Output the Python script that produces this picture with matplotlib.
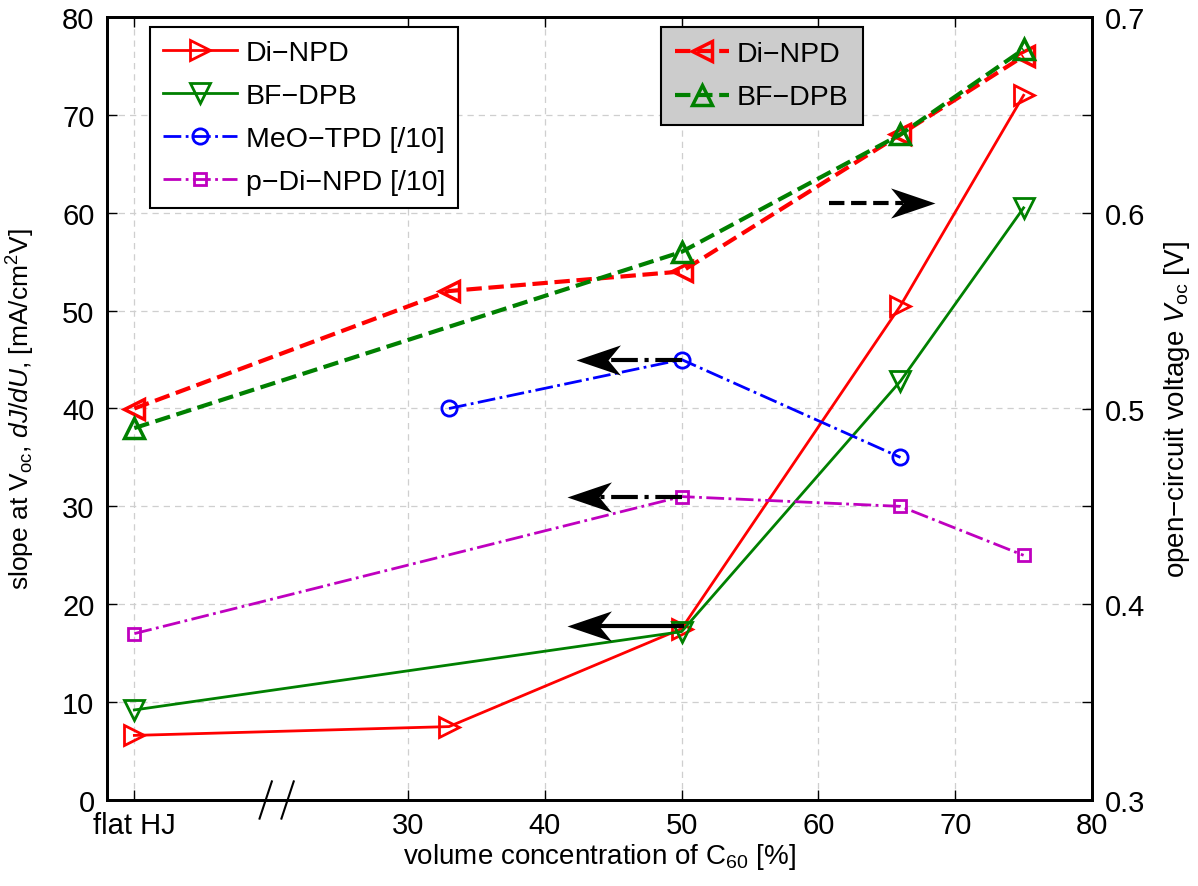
import numpy as np
import matplotlib
matplotlib.use("Agg")
import matplotlib.pyplot as plt
from matplotlib.path import Path

plt.rcParams['font.family'] = ['Liberation Sans', 'DejaVu Sans']
plt.rcParams['mathtext.fontset'] = 'custom'
plt.rcParams['mathtext.rm'] = 'Liberation Sans'
plt.rcParams['mathtext.it'] = 'Liberation Sans:italic'

# x = 10 stands for "flat HJ"
x_dinpd = [10, 33, 50, 66, 75]
slope_dinpd = [6.6, 7.5, 17.5, 50.5, 72]
x_bfdpb = [10, 50, 66, 75]
slope_bfdpb = [9.2, 17.2, 42.8, 60.5]
x_meo = [33, 50, 66]
slope_meo = [40, 45, 35]
x_pdinpd = [10, 50, 66, 75]
slope_pdinpd = [17, 31, 30, 25]

voc_dinpd = [0.50, 0.56, 0.57, 0.64, 0.68]
voc_bfdpb = [0.49, 0.58, 0.64, 0.6835]

xticks = [10, 30, 40, 50, 60, 70, 80]
xticklabels = ['flat HJ', '30', '40', '50', '60', '70', '80']

# arrows: (tail x, head x, y, linestyle)
arrows = [(60.8, 68.5, 61, '--'),
          (50, 42.3, 45, '-.'),
          (50, 41.6, 31, '-.'),
          (50, 41.6, 17.8, '-')]

fig = plt.figure(figsize=(11.98, 8.87), dpi=100)
ax = fig.add_axes([107/1198, 1 - 801/887, 985/1198, 783/887])
ax2 = ax.twinx()

l1, = ax.plot(x_dinpd, slope_dinpd, '-', color='red', lw=2, marker='>', ms=15,
              mfc='none', mew=2, label='Di−NPD')
l2, = ax.plot(x_bfdpb, slope_bfdpb, '-', color='green', lw=2, marker='v', ms=15,
              mfc='none', mew=2, label='BF−DPB')
l3, = ax.plot(x_meo, slope_meo, '-.', color='blue', lw=2, marker='o', ms=11,
              mfc='none', mew=2, label='MeO−TPD [/10]')
l4, = ax.plot(x_pdinpd, slope_pdinpd, '-.', color='m', lw=2, marker='s', ms=9,
              mfc='none', mew=2, label='p−Di−NPD [/10]')

r1, = ax2.plot(x_dinpd, voc_dinpd, '--', color='red', lw=3, marker='<', ms=14,
               mfc='none', mew=2.5, label='Di−NPD')
r2, = ax2.plot(x_bfdpb, voc_bfdpb, '--', color='green', lw=3, marker='^', ms=14,
               mfc='none', mew=2.5, label='BF−DPB')

ax.set_xlim(8, 80)
ax.set_ylim(0, 80)
ax2.set_ylim(0.3, 0.7)
ax.set_xticks(xticks)
ax.set_xticklabels(xticklabels)
ax.set_yticks(np.arange(0, 81, 10))
ax2.set_yticks(np.arange(0.3, 0.701, 0.05))
ax2.set_yticklabels(['0.3', '', '0.4', '', '0.5', '', '0.6', '', '0.7'])

ax.grid(True, color='#cfcfcf', ls=(0, (5, 4)), lw=0.9)
for a in (ax, ax2):
    a.tick_params(direction='in', length=7, width=1, labelsize=21, pad=9)
    for s in a.spines.values():
        s.set_linewidth(2)
ax.tick_params(top=True)
ax.tick_params(axis='x', pad=8)

ax.set_xlabel('volume concentration of C$_{60}$ [%]', fontsize=20, labelpad=1)
ax.set_ylabel('slope at V$_{\\rm oc}$, $dJ/dU$, [mA/cm$^2$V]', fontsize=19, labelpad=18)
ax2.set_ylabel('open−circuit voltage $V_{\\rm oc}$ [V]', fontsize=20, labelpad=12)

# arrows pointing to the axis each group belongs to (notched heads)
def head_marker(d):
    verts = [(0, 0), (-d, 0.34), (-0.72 * d, 0), (-d, -0.34), (0, 0)]
    codes = [Path.MOVETO, Path.LINETO, Path.LINETO, Path.LINETO, Path.CLOSEPOLY]
    return Path(verts, codes)

for x0, x1, y, ls in arrows:
    d = 1 if x1 > x0 else -1
    ax.plot([x0, x1 - d * 2.3], [y, y], color='k', lw=3, ls=ls)
    ax.plot([x1], [y], ls='none', marker=head_marker(d), ms=64,
            color='k', mew=0)

# axis break marks
for xb in (19.6, 21.2):
    ax.plot([xb - 0.45, xb + 0.45], [-1.9, 1.9], color='k', lw=1.5, clip_on=False)

leg1 = ax2.legend(handles=[l1, l2, l3, l4], loc='upper left',
                  bbox_to_anchor=(0.044, 0.987), borderaxespad=0,
                  fontsize=20.5, handlelength=2.6,
                  fancybox=False, edgecolor='k', framealpha=1, borderpad=0.45,
                  labelspacing=0.6, handletextpad=0.3)
leg1.get_frame().set_linewidth(1.5)
ax2.add_artist(leg1)
leg2 = ax2.legend(handles=[r1, r2], loc='upper left',
                  bbox_to_anchor=(0.5625, 0.987), borderaxespad=0,
                  fontsize=20.5, handlelength=1.9,
                  fancybox=False, edgecolor='k', facecolor='#cccccc',
                  framealpha=1, borderpad=0.5, labelspacing=0.6, handletextpad=0.25)
leg2.get_frame().set_linewidth(1.5)

fig.savefig('out.png', dpi=100)
